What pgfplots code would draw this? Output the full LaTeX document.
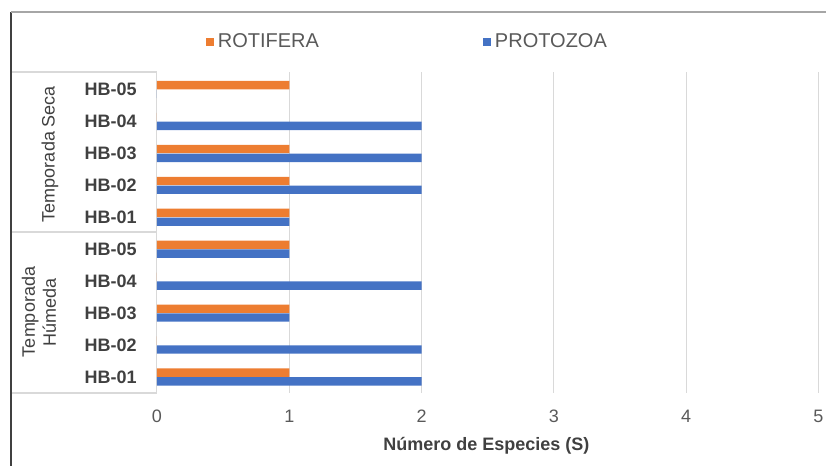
\documentclass[border=0pt]{standalone}
\usepackage{pgfplots}
\pgfplotsset{compat=1.18}
\usepackage{pgfplotstable}
\usepackage{fontspec}
\setmainfont{Liberation Sans}
\definecolor{rotif}{HTML}{ED7D31}
\definecolor{proto}{HTML}{4472C4}
\definecolor{gridc}{HTML}{D9D9D9}
\definecolor{txt}{HTML}{595959}
\definecolor{lab}{HTML}{404040}

\pgfplotstableread{
y x
0 1
1 0
2 1
3 0
4 1
5 1
6 1
7 1
8 0
9 1
}\rotifera
\pgfplotstableread{
y x
0 2
1 2
2 1
3 2
4 1
5 1
6 2
7 2
8 2
9 0
}\protozoa

\begin{document}
\begin{tikzpicture}
\useasboundingbox (-78.5pt,-36.5pt) rectangle (334.5pt,196.5pt);
\begin{axis}[
  at={(0pt,0pt)}, anchor=south west,
  scale only axis, width=330.75pt, height=160.5pt,
  xmin=0, xmax=5, ymin=-0.5, ymax=9.55,
  xtick={0,1,2,3,4,5},
  ytick={0,1,2,3,4,5,6,7,8,9},
  yticklabels={HB-01,HB-02,HB-03,HB-04,HB-05,HB-01,HB-02,HB-03,HB-04,HB-05},
  /pgf/number format/assume math mode=true,
  major tick length=0pt,
  axis line style={draw=none},
  xmajorgrids, grid style={gridc, line width=0.5pt},
  tick label style={font=\fontsize{9}{10}\selectfont},
  xticklabel style={txt, yshift=-5pt},
  yticklabel style={lab, font=\fontsize{9}{10}\selectfont\bfseries, xshift=-6.7pt},
  xlabel={Número de Especies (S)},
  xlabel style={at={(axis description cs:0.498,-0.165)}, anchor=center, lab, font=\fontsize{9}{10}\selectfont\bfseries},
  xbar, bar width=4.2pt,
  legend columns=2,
  legend style={draw=none, fill=none, at={(axis description cs:0.38,1.0935)}, anchor=center,
    font=\fontsize{10}{12}\selectfont, text=txt,
    /tikz/every even column/.append style={column sep=80pt}},
  legend image code/.code={\fill[#1] (0pt,-2pt) rectangle (4pt,2pt);},
]
\addplot[fill=rotif, draw=none, bar shift=2.2pt] table[x=x,y=y] {\rotifera};
\addlegendentry{ROTIFERA}
\addplot[fill=proto, draw=none, bar shift=-2.2pt] table[x=x,y=y] {\protozoa};
\addlegendentry{PROTOZOA}
\end{axis}
% label column separators
\draw[gridc, line width=0.6pt] (-73pt,160.5pt) -- (0pt,160.5pt);
\draw[gridc, line width=0.6pt] (-73pt,80.5pt) -- (0pt,80.5pt);
\draw[gridc, line width=0.6pt] (-73pt,0pt) -- (0pt,0pt);
% group labels
\node[rotate=90, text=lab, font=\fontsize{9}{10.5}\selectfont] at (-53.5pt,119.5pt) {Temporada Seca};
\node[rotate=90, text=lab, font=\fontsize{9}{10.5}\selectfont, align=center] at (-59pt,40.5pt) {Temporada\\Húmeda};
% outer frame
\draw[lab, line width=1pt] (-73pt,-36.5pt) -- (-73pt,190.5pt);
\draw[gray!70, line width=1.2pt] (-73pt,190.5pt) -- (334.5pt,190.5pt);
\end{tikzpicture}
\end{document}
